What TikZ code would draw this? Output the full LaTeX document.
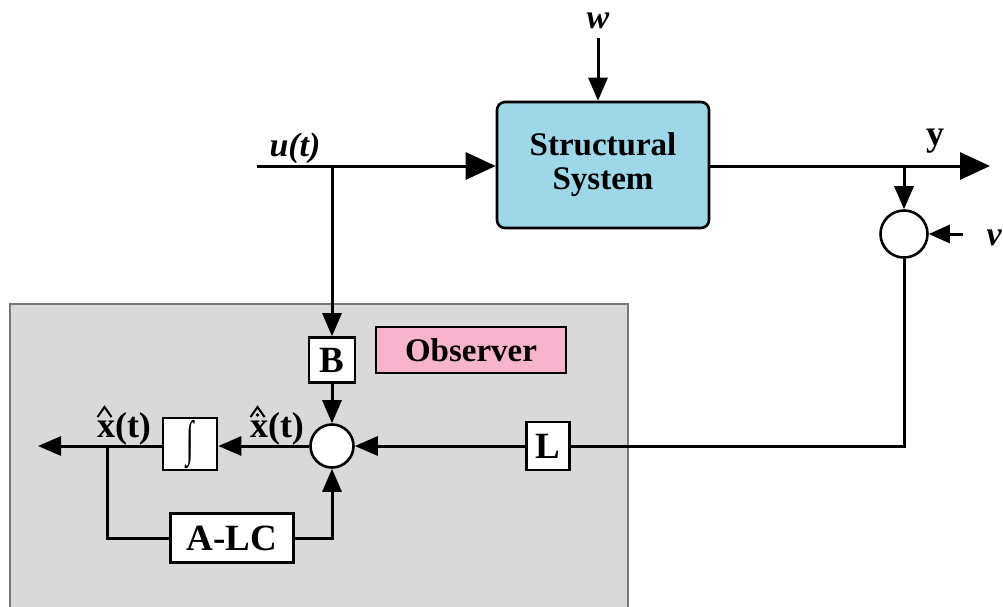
\documentclass[tikz,border=0pt]{standalone}
\usepackage{fontspec}
\usepackage{graphicx}
\setmainfont{Liberation Serif}
\usetikzlibrary{arrows.meta}
\begin{document}
\begin{tikzpicture}[x=1pt,y=-1pt,
  line width=3pt,
  tip/.style={-{Triangle[length=23pt,width=19pt]}},
  bigtip/.style={-{Triangle[length=30pt,width=27pt]}},
  blk/.style={draw,fill=white,line width=2.6pt,inner sep=0pt,font=\fontsize{37}{40}\selectfont\bfseries},
  sumc/.style={draw,circle,fill=white,line width=2.6pt,minimum size=43pt,inner sep=0pt},
  lbl/.style={font=\fontsize{36}{38}\selectfont\bfseries,inner sep=0pt},
  hatline/.style={line width=2pt,line join=miter}]
\useasboundingbox (0,0) rectangle (1003,606);
\fill[white] (0,0) rectangle (1003,606);
% observer background
\draw[fill={rgb,255:red,217;green,217;blue,217},draw={rgb,255:red,120;green,120;blue,120},line width=1.4pt] (10,304) rectangle (628,620);
% system
\node[draw,rounded corners=8pt,fill={rgb,255:red,157;green,215;blue,232},line width=2.6pt,minimum width=212pt,minimum height=126pt,align=center,font=\fontsize{33}{34}\selectfont\bfseries] (sys) at (603,165) {Structural\\System};
\node[lbl,font=\fontsize{34}{34}\selectfont\bfseries\itshape,anchor=base] (wl) at (598,28) {w};
\coordinate (wtop) at (598,38);
\draw[tip] (wtop) -- (wtop |- sys.north);
% input u
\node[lbl,font=\fontsize{34}{34}\selectfont\bfseries\itshape,anchor=base] (ul) at (295,156) {u(t)};
\coordinate (uin) at (257,166);
\coordinate (ubr) at (332,166);
\draw[bigtip] (uin) -- (sys.west |- uin);
% output y
\coordinate (yend) at (990,166);
\coordinate (ybr) at (904,166);
\draw[bigtip] (sys.east |- yend) -- (yend);
\node[lbl,anchor=base] (yl) at (935,145) {y};
% right sum
\node[sumc,minimum size=47pt] (s2) at (904,234) {};
\draw[tip] (ybr) -- (s2.north);
\coordinate (vin) at (963,234);
\draw[-{Triangle[length=21pt,width=18pt]}] (vin) -- (s2.east);
\node[lbl,font=\fontsize{34}{34}\selectfont\bfseries\itshape,anchor=base west] (vl) at (985,245) {v};
% observer
\node[blk,minimum width=46pt,minimum height=45pt] (B) at (332,360) {B};
\node[draw,fill={rgb,255:red,247;green,180;blue,204},line width=2pt,minimum width=190pt,minimum height=46pt,font=\fontsize{33}{34}\selectfont\bfseries] (obs) at (471,350) {Observer};
\draw[tip] (ubr) -- (B.north);
\node[sumc] (s1) at (332,446) {};
\draw[tip] (B.south) -- (s1.north);
\node[blk,minimum width=43pt,minimum height=48pt] (L) at (548,446) {L};
\draw (s2.south) |- (L.east);
\draw[tip] (L.west) -- (s1.east);
\node[blk,minimum width=54pt,minimum height=52pt,font=\fontsize{34}{36}\selectfont] (I) at (190,444) {\scalebox{0.8}[1.45]{∫}};
\draw[tip] (s1.west) -- (I.east |- s1.west);
\coordinate (xout) at (38,446);
\coordinate (xbr) at (107,446);
\draw[tip] (I.west |- xout) -- (xout);
\node[blk,minimum width=123pt,minimum height=49pt] (A) at (232,538) {A-LC};
\draw (xbr) |- (A.west);
\draw[tip] (A.east) -| (s1.south);
% state labels with hats
\node[lbl,anchor=base] (xdl) at (277,437) {x(t)};
\node[lbl,anchor=base] (xl) at (124,437) {x(t)};
\draw[hatline] ([shift={(2,-20)}]xdl.base west) -- ([shift={(9,-30)}]xdl.base west) -- ([shift={(16,-20)}]xdl.base west);
\fill ([shift={(9,-22)}]xdl.base west) circle (1.8pt);
\draw[hatline] ([shift={(2,-20)}]xl.base west) -- ([shift={(9,-30)}]xl.base west) -- ([shift={(16,-20)}]xl.base west);
\end{tikzpicture}
\end{document}
